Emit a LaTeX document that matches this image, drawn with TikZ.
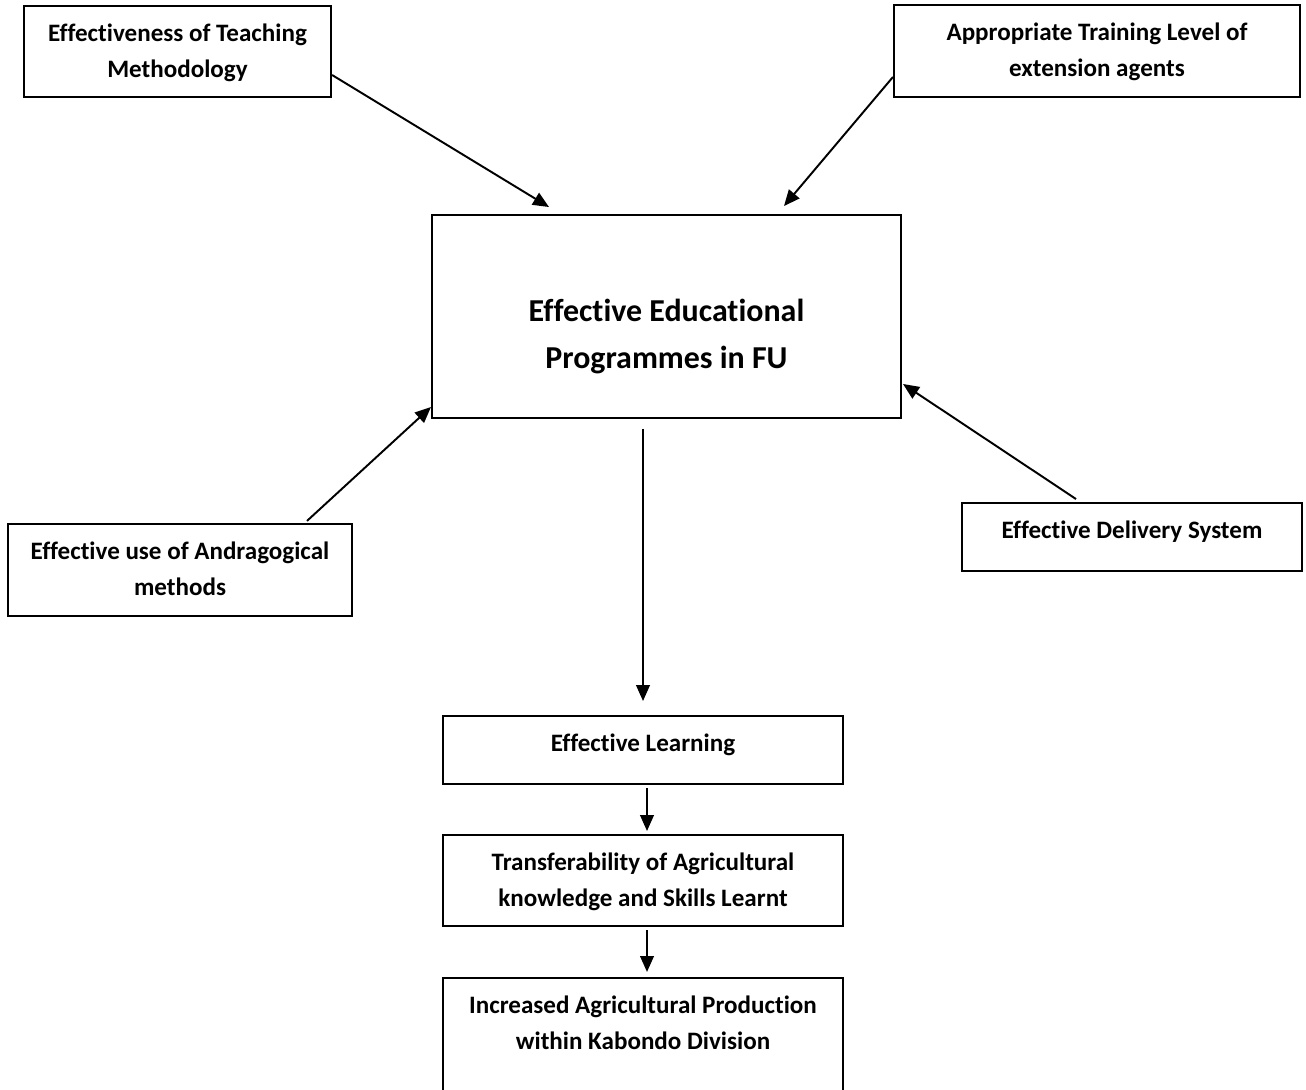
\documentclass[tikz,border=0pt]{standalone}
\usepackage{fontspec}
\setmainfont{Carlito}[Ligatures={NoCommon}]
\usetikzlibrary{arrows.meta, calc}

\begin{document}
\begin{tikzpicture}[
    x=0.4386pt, y=-0.4386pt,
    box/.style={rectangle, draw=black, line width=0.9pt, inner sep=0pt},
    txt/.style={anchor=north, align=center, inner sep=0pt},
    lbl/.style={txt, yshift=-8.2pt, font=\fontsize{11}{15.8}\selectfont\bfseries},
    mlbl/.style={txt, yshift=-37pt, font=\fontsize{14}{20.6}\selectfont\bfseries},
    arr/.style={-{Triangle[length=7pt, width=6pt]}, line width=0.85pt}
  ]
    \useasboundingbox (0,0) rectangle (1306,1089);

    % Central programme box
    \node[box, minimum width=205.7pt, minimum height=89pt,
          label={[mlbl]north:Effective Educational\\Programmes in FU}] (main) at (666.5,316.5) {};

    % Contributing factors
    \node[box, minimum width=134.7pt, minimum height=39.9pt,
          label={[lbl]north:Effectiveness of Teaching\\Methodology}] (teach) at (177.5,51.5) {};
    \node[box, minimum width=178.1pt, minimum height=40.4pt,
          label={[lbl]north:Appropriate Training Level of\\extension agents}] (train) at (1097,51) {};
    \node[box, minimum width=150.9pt, minimum height=40.4pt,
          label={[lbl]north:Effective use of Andragogical\\methods}] (andr) at (180,570) {};
    \node[box, minimum width=149.1pt, minimum height=29.8pt,
          label={[lbl]north:Effective Delivery System}] (deliv) at (1132,537) {};

    \draw[arr] ($(teach.east)+(0,23.5)$) -- ($(main.north)+(-117.5,-7)$);
    \draw[arr] ($(train.west)+(0,26)$)   -- ($(main.north)+(117.5,-8)$);
    \draw[arr] ($(andr.north)+(127,-2)$) -- ($(main.west)+(0,90.5)$);
    \draw[arr] ($(deliv.north)+(-56,-3)$) -- ($(main.east)+(1,67.5)$);

    % Outcome chain
    \node[box, minimum width=175.4pt, minimum height=29.8pt,
          label={[lbl]north:Effective Learning}] (learn) at (643,750) {};
    \node[box, minimum width=175.4pt, minimum height=39.9pt,
          label={[lbl]north:Transferability of Agricultural\\knowledge and Skills Learnt}] (transf) at (643,880.5) {};
    \node[box, minimum width=175.4pt, minimum height=62.3pt,
          label={[lbl]north:Increased Agricultural Production\\within Kabondo Division}] (incr) at (643,1049) {};

    \draw[arr] ($(main.south)+(-23.5,10)$) -- ($(learn.north)+(0,-14)$);
    \draw[arr] ($(learn.south)+(4,3)$)     -- ($(transf.north)+(4,-3)$);
    \draw[arr] ($(transf.south)+(4,3)$)    -- ($(incr.north)+(4,-5)$);
  \end{tikzpicture}
\end{document}
